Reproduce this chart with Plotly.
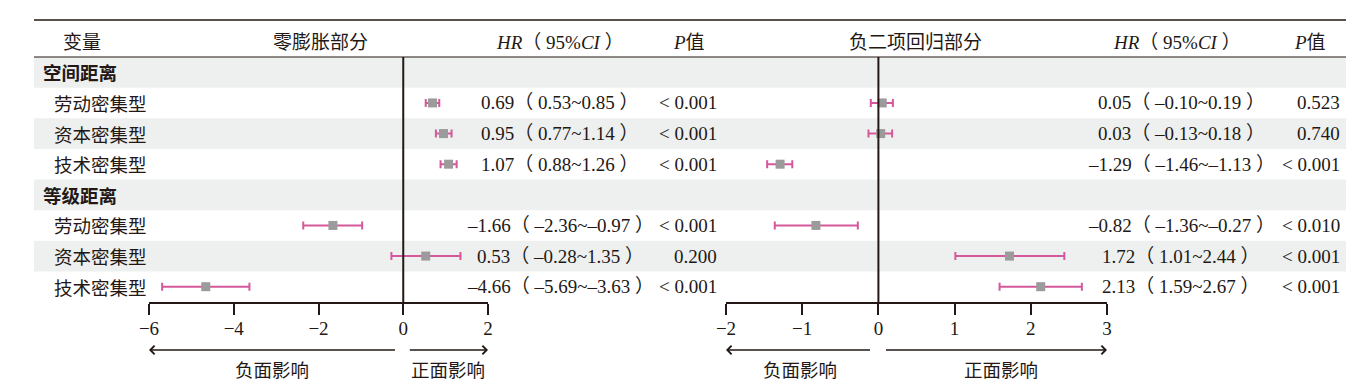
import plotly.graph_objects as go

# The page body has an 8px default margin; size the figure to fit the window
OFF = 8
W, H = 1372 - 2 * OFF, 387 - OFF

# ---------------- data ----------------
row_labels = ["空间距离", "劳动密集型", "资本密集型", "技术密集型",
              "等级距离", "劳动密集型", "资本密集型", "技术密集型"]
row_is_group = [True, False, False, False, True, False, False, False]
item_rows = [1, 2, 3, 5, 6, 7]

zi_est = [0.69, 0.95, 1.07, -1.66, 0.53, -4.66]
zi_lo = [0.53, 0.77, 0.88, -2.36, -0.28, -5.69]
zi_hi = [0.85, 1.14, 1.26, -0.97, 1.35, -3.63]
zi_p = ["< 0.001", "< 0.001", "< 0.001", "< 0.001", "0.200", "< 0.001"]

nb_est = [0.05, 0.03, -1.29, -0.82, 1.72, 2.13]
nb_lo = [-0.10, -0.13, -1.46, -1.36, 1.01, 1.59]
nb_hi = [0.19, 0.18, -1.13, -0.27, 2.44, 2.67]
nb_p = ["0.523", "0.740", "< 0.001", "< 0.010", "< 0.001", "< 0.001"]

zi_ticks = [-6, -4, -2, 0, 2]
nb_ticks = [-2, -1, 0, 1, 2, 3]

headers = ["变量", "零膨胀部分", "<i>HR</i>（ 95%<i>CI</i> ）", "<i>P</i>值",
           "负二项回归部分", "<i>HR</i>（ 95%<i>CI</i> ）", "<i>P</i>值"]

# ---------------- styling ----------------
INK = "#231815"
PINK = "#D4589A"
MARK = "#9B9B9B"
BAND = "#EDF0EF"
CJK = "Noto Sans CJK SC"
NUM = "Liberation Serif, Noto Sans CJK SC"


def px(x):
    return (x - OFF) / W


def py(y):
    return 1 - (y - OFF) / H


def fmt(v):
    return f"{v:.2f}".replace("-", "–")


fig = go.Figure()

# forest traces
fig.add_trace(go.Scatter(
    x=zi_est, y=item_rows, mode="markers", xaxis="x", yaxis="y",
    marker=dict(symbol="square", size=9, color=MARK),
    error_x=dict(type="data", symmetric=False,
                 array=[h - e for h, e in zip(zi_hi, zi_est)],
                 arrayminus=[e - l for e, l in zip(zi_est, zi_lo)],
                 color=PINK, thickness=2, width=4),
    showlegend=False, hoverinfo="skip"))
fig.add_trace(go.Scatter(
    x=nb_est, y=item_rows, mode="markers", xaxis="x2", yaxis="y",
    marker=dict(symbol="square", size=9, color=MARK),
    error_x=dict(type="data", symmetric=False,
                 array=[h - e for h, e in zip(nb_hi, nb_est)],
                 arrayminus=[e - l for e, l in zip(nb_est, nb_lo)],
                 color=PINK, thickness=2, width=4),
    showlegend=False, hoverinfo="skip"))

shapes = []
# banded rows (every other row)
for i in range(0, len(row_labels), 2):
    shapes.append(dict(type="rect", xref="paper", yref="y",
                       x0=px(34), x1=px(1346), y0=i - 0.5, y1=i + 0.5,
                       fillcolor=BAND, line=dict(width=0), layer="below"))
# table rules
shapes.append(dict(type="line", xref="paper", yref="paper", x0=px(34), x1=px(1346),
                   y0=py(20), y1=py(20), line=dict(color=INK, width=1.6)))
shapes.append(dict(type="line", xref="paper", yref="paper", x0=px(34), x1=px(1346),
                   y0=py(57), y1=py(57), line=dict(color=INK, width=1.2)))
# zero reference lines
for xr in ("x", "x2"):
    shapes.append(dict(type="line", xref=xr, yref="y", x0=0, x1=0, y0=-0.5, y1=7.5,
                       line=dict(color=INK, width=2)))

annotations = []
# headers
hdr_x = [82, 320, 560, 689, 915, 1177, 1310]
for t, xx in zip(headers, hdr_x):
    annotations.append(dict(text=t, x=px(xx), y=py(42), xref="paper", yref="paper",
                            showarrow=False, xanchor="center", yanchor="middle",
                            font=dict(family=NUM, size=19, color=INK)))
# row labels
for i, (lab, g) in enumerate(zip(row_labels, row_is_group)):
    annotations.append(dict(text=f"<b>{lab}</b>" if g else lab,
                            x=px(41 if g else 52), y=i, xref="paper", yref="y",
                            showarrow=False, xanchor="left", yanchor="middle",
                            font=dict(family=CJK, size=18.5, color=INK)))
# HR / P text
for r, e, l, h, p in zip(item_rows, zi_est, zi_lo, zi_hi, zi_p):
    annotations.append(dict(text=f"{fmt(e)}（ {fmt(l)}~{fmt(h)} ）", x=px(560), y=r,
                            xref="paper", yref="y", showarrow=False, xanchor="center",
                            font=dict(family=NUM, size=19, color=INK)))
    annotations.append(dict(text=p, x=px(719), y=r, xref="paper", yref="y",
                            showarrow=False, xanchor="right",
                            font=dict(family=NUM, size=19, color=INK)))
for r, e, l, h, p in zip(item_rows, nb_est, nb_lo, nb_hi, nb_p):
    annotations.append(dict(text=f"{fmt(e)}（ {fmt(l)}~{fmt(h)} ）", x=px(1181), y=r,
                            xref="paper", yref="y", showarrow=False, xanchor="center",
                            font=dict(family=NUM, size=19, color=INK)))
    annotations.append(dict(text=p, x=px(1342), y=r, xref="paper", yref="y",
                            showarrow=False, xanchor="right",
                            font=dict(family=NUM, size=19, color=INK)))

# direction arrows
arrow_y = py(350)
for xr, tip, tail in (("x", -6, -0.16), ("x", 2, 0.12), ("x2", -2, -0.09), ("x2", 3, 0.08)):
    annotations.append(dict(text="", x=tip, y=arrow_y, xref=xr, yref="paper",
                            ax=tail, ay=0, axref=xr, ayref="pixel",
                            showarrow=True, arrowhead=4, arrowsize=1.1,
                            arrowwidth=1.5, arrowcolor=INK))
for t, xx in (("负面影响", 272), ("正面影响", 448), ("负面影响", 800), ("正面影响", 1001)):
    annotations.append(dict(text=t, x=px(xx), y=py(369), xref="paper", yref="paper",
                            showarrow=False, xanchor="center", yanchor="middle",
                            font=dict(family=CJK, size=18.5, color=INK)))

axis_common = dict(showline=True, linecolor=INK, linewidth=1.5, ticks="outside",
                   ticklen=11, tickwidth=1.5, tickcolor=INK, showgrid=False,
                   zeroline=False, tickfont=dict(family=NUM, size=19, color=INK),
                   ticklabelstandoff=-3,
                   fixedrange=True, automargin=False)

fig.update_layout(
    width=W, height=H, autosize=False,
    margin=dict(l=0, r=0, t=0, b=0, pad=0, autoexpand=False),
    paper_bgcolor="white", plot_bgcolor="rgba(0,0,0,0)",
    xaxis=dict(domain=[px(149), px(488)], range=[-6, 2], tickvals=zi_ticks,
               anchor="y", **axis_common),
    xaxis2=dict(domain=[px(726), px(1107)], range=[-2, 3], tickvals=nb_ticks,
                anchor="y", **axis_common),
    yaxis=dict(domain=[py(302), py(57)], range=[7.5, -0.5], visible=False,
               fixedrange=True, automargin=False),
    shapes=shapes, annotations=annotations,
)

fig.write_html("out.html", config={"responsive": False, "displayModeBar": False})
